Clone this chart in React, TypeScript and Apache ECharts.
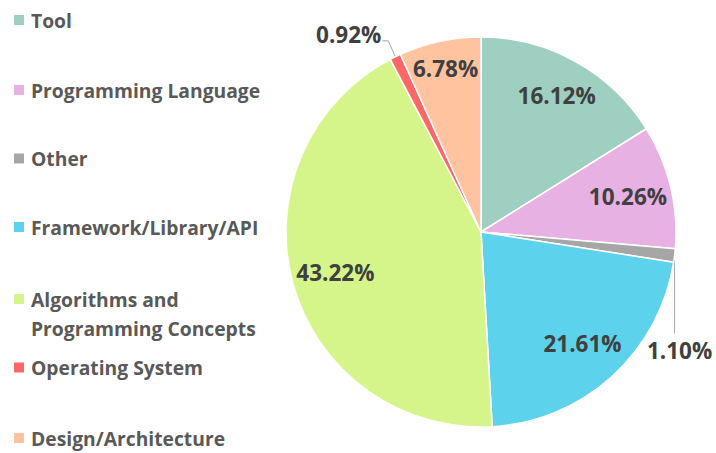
import React, { useEffect, useRef } from "react";
import * as echarts from "echarts";

const names = [
  "Tool",
  "Programming Language",
  "Other",
  "Framework/Library/API",
  "Algorithms and Programming Concepts",
  "Operating System",
  "Design/Architecture",
];
const values = [16.12, 10.26, 1.1, 21.61, 43.22, 0.92, 6.78];
const colors = ["#9ECFC1", "#E8B1E3", "#A6A6A6", "#5CD2EC", "#D5F58A", "#FF6666", "#FFC3A0"];
const legendLabels = [
  "Tool",
  "Programming Language",
  "Other",
  "Framework/Library/API",
  "\nAlgorithms and\nProgramming Concepts",
  "Operating System",
  "Design/Architecture",
];

const CX = 481;
const CY = 232;
const R = 195;
const FONT = "'Open Sans', 'Noto Sans', sans-serif";
const legendTops = [8, 78, 146.5, 215, 255.5, 355.5, 426];

export default function App() {
  const ref = useRef<HTMLDivElement>(null);
  useEffect(() => {
    if (!ref.current) return;
    const chart = echarts.init(ref.current, null, { renderer: "svg" });
    const total = values.reduce((a, b) => a + b, 0);
    const midAngle = (i: number) => {
      let cum = 0;
      for (let k = 0; k < i; k++) cum += values[k];
      return ((cum + values[i] / 2) / total) * Math.PI * 2;
    };
    const pointAt = (i: number, r: number) => {
      const t = midAngle(i);
      return [CX + r * Math.sin(t), CY - r * Math.cos(t)];
    };

    const legends = names.map((n, i) => ({
      data: [n],
      left: 12,
      top: legendTops[i],
      orient: "vertical",
      padding: 0,
      itemWidth: 12,
      itemHeight: 12,
      icon: "rect",
      selectedMode: false,
      formatter: () => legendLabels[i],
      textStyle: {
        color: "#595959",
        fontSize: 19.3,
        fontWeight: "bold",
        fontFamily: FONT,
        lineHeight: i === 4 ? 29 : 24,
        padding: [0, 0, 0, 1],
      },
    }));

    chart.setOption({
      animation: false,
      backgroundColor: "#ffffff",
      legend: legends,
      series: [
        {
          type: "pie",
          center: [CX, CY],
          radius: R,
          startAngle: 90,
          clockwise: true,
          avoidLabelOverlap: false,
          itemStyle: { borderColor: "#ffffff", borderWidth: 1.5 },
          label: {
            show: true,
            position: "inside",
            formatter: (p: any) => p.value.toFixed(2) + "%",
            color: "#404040",
            fontSize: 22.5,
            fontWeight: "bold",
            fontFamily: FONT,
          },
          labelLine: { show: false, lineStyle: { color: "#A6A6A6", width: 1 } },
          labelLayout: (p: any) => {
            const i = p.dataIndex;
            if (i === 5) {
              const e = pointAt(i, R);
              return {
                x: e[0] - 14,
                y: e[1] - 22.5,
                align: "right",
                verticalAlign: "middle",
                labelLinePoints: [
                  [e[0], e[1]],
                  [e[0] - 7, e[1] - 16],
                  [e[0] - 13, e[1] - 16],
                ],
              };
            }
            if (i === 2) {
              const e = pointAt(i, R);
              return {
                x: e[0] + 5,
                y: e[1] + 94.5,
                align: "center",
                verticalAlign: "middle",
                labelLinePoints: [
                  [e[0], e[1]],
                  [e[0], e[1] + 78],
                  [e[0], e[1] + 78],
                ],
              };
            }
            const ratio = values[i] < 8 ? 0.86 : values[i] > 15 && values[i] < 20 ? 0.8 : 0.775;
            const q = pointAt(i, R * ratio);
            return { x: q[0], y: q[1], align: "center", verticalAlign: "middle" };
          },
          data: names.map((n, i) => {
            const small = i === 2 || i === 5;
            return {
              name: n,
              value: values[i],
              itemStyle: { color: colors[i] },
              label: small ? { position: "outside" } : undefined,
              labelLine: small ? { show: true, length: 10, length2: 10 } : undefined,
            };
          }),
        },
      ],
    });
    return () => chart.dispose();
  }, []);
  return (
    <div
      ref={ref}
      style={{ position: "absolute", left: 0, top: 0, width: 716, height: 453 }}
    />
  );
}
